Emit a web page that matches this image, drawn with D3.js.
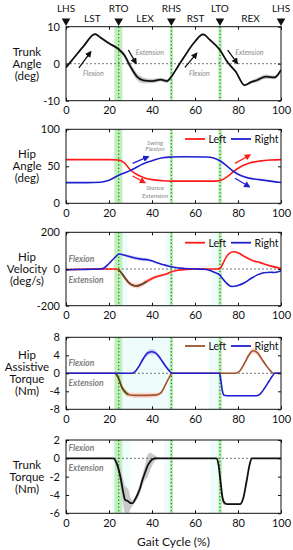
<!DOCTYPE html>
<html>
<head>
<meta charset="utf-8">
<script src="https://cdn.jsdelivr.net/npm/d3@7"></script>
<style>
body { margin: 0; background: #fff; }
text { font-family: Lato, "Open Sans", sans-serif; }
</style>
</head>
<body>
<script>
// ---- data ----
var gaitTicks = [0, 20, 40, 60, 80, 100];
var eventNames = ["LHS", "RTO", "RHS", "LTO", "LHS"];
var eventPct = [0, 24.5, 49, 71.6, 100];
var phaseNames = ["LST", "LEX", "RST", "REX"];
var greenBands = [[22.5, 26.2], [48.3, 49.8], [70.9, 72.5]];

// trunk angle (deg)
var taX = [0, 4, 8, 13.5, 16, 20, 24.5, 27, 30, 33, 36, 40, 44, 47, 49, 52, 55, 60, 63.7, 67, 71.6, 75, 79, 83, 86, 89, 93, 97, 100];
var taY = [-1, 1.8, 4.6, 8.0, 7.1, 5.5, 3.9, 2.4, -0.8, -3.5, -4.5, -4.7, -4.3, -4.7, -3.5, -0.8, 1.9, 6.0, 7.9, 6.4, 3.7, 0.5, -2.2, -5.8, -5.0, -4.4, -3.5, -3.7, -1.7];
var taSd = [0.3, 0.3, 0.3, 0.3, 0.3, 0.3, 0.4, 0.7, 0.9, 0.9, 0.8, 0.6, 0.5, 0.5, 0.4, 0.3, 0.3, 0.3, 0.3, 0.3, 0.3, 0.3, 0.3, 0.3, 0.4, 0.6, 0.6, 0.5, 0.4];

// hip angle (deg)
var haLX = [0, 10, 20, 24.5, 27, 30, 33, 36, 40, 45, 50, 60, 70, 72, 75, 78, 81, 85, 90, 95, 100];
var haLY = [59, 59, 59, 58.5, 55, 45, 39, 35, 32, 30.5, 30, 30, 30, 31, 36, 43, 49, 54, 57, 58.5, 59];
var haRX = [0, 10, 16, 20, 24.5, 28, 30, 33, 36, 40, 45, 49, 55, 65, 69, 71.6, 75, 78, 81, 85, 90, 95, 100];
var haRY = [28, 28, 28.5, 31, 38, 42, 44.5, 49, 53.5, 57.5, 61.5, 62.5, 63, 62.5, 61, 57.5, 50, 43, 38, 34, 32, 30, 28];

// hip velocity (deg/s)
var hvLX = [0, 5, 10, 15, 20, 23, 24.5, 26, 27.5, 29, 31, 33, 35, 37.5, 40, 42, 45, 47, 49, 52, 56, 60, 65, 70, 71.6, 73, 74.5, 76, 78, 80, 83, 87, 90, 95, 100];
var hvLY = [-3, -2, -1, 0, 0, 0, -5, -25, -50, -72, -88, -92, -85, -68, -52, -42, -33, -26, -15, -7, -2, 0, 0, 0, 2, 30, 65, 85, 94, 88, 68, 45, 36, 17, 3];
var hvLSd = [2, 2, 2, 2, 2, 2, 3, 8, 12, 14, 14, 14, 14, 13, 11, 9, 7, 5, 3, 2, 2, 2, 2, 2, 2, 3, 3, 3, 3, 3, 3, 2, 2, 2, 2];
var hvRX = [0, 5, 10, 15, 17, 20, 22.5, 24.8, 27, 29, 32, 35, 38, 40, 42, 45, 48, 51, 55, 60, 64, 67, 69, 71.6, 73, 74.7, 77, 80, 83, 86, 89, 92, 95, 97, 100];
var hvRY = [-5, -3, -2, 0, 2, 30, 60, 82, 76, 69, 60, 54, 50, 45, 35, 24, 15, 8, 3, 0, -1, -8, -18, -33, -55, -78, -95, -90, -75, -52, -32, -20, -18, -19, -11];
var hvRSd = [2, 2, 2, 2, 2, 3, 4, 5, 6, 8, 9, 9, 8, 6, 4, 3, 2, 2, 2, 2, 2, 2, 3, 3, 3, 3, 3, 3, 3, 3, 2, 2, 2, 2, 2];

// hip assistive torque (Nm)
var htLX = [0, 20, 23, 24.5, 25.9, 27.4, 29, 32, 38, 42, 44, 46, 48, 49.5, 52, 60, 70, 79, 81, 83, 85, 87, 89, 91, 93, 95, 96.5, 100];
var htLY = [0, 0, 0, -1.2, -3.0, -4.1, -4.7, -4.9, -4.9, -4.8, -4.4, -2.8, -0.9, 0, 0, 0, 0, 0, 0.6, 2.2, 4.0, 5.0, 4.6, 3.2, 1.8, 0.6, 0, 0];
var htLSd = [0, 0, 0.05, 0.4, 0.6, 0.6, 0.5, 0.6, 0.6, 0.5, 0.4, 0.3, 0.2, 0.1, 0, 0, 0, 0, 0.1, 0.3, 0.5, 0.6, 0.6, 0.5, 0.3, 0.15, 0, 0];
var htRX = [0, 30.5, 32, 34, 36, 38, 40, 42, 44, 46, 48, 49.2, 52, 71.4, 72, 72.7, 73.5, 75, 88.7, 90.5, 92.5, 94.5, 96, 97.2, 100];
var htRY = [0, 0, 0.3, 1.6, 3.3, 4.5, 4.8, 4.4, 3.2, 1.8, 0.6, 0, 0, 0, -1.5, -3.8, -4.9, -5, -5, -4.5, -3.2, -1.7, -0.6, 0, 0];
var htRSd = [0, 0, 0.1, 0.3, 0.5, 0.6, 0.6, 0.5, 0.4, 0.3, 0.2, 0.1, 0, 0, 0.2, 0.4, 0.2, 0.1, 0.05, 0.05, 0.05, 0.05, 0.05, 0, 0];

// trunk torque (Nm)
var ttX = [0, 22, 23.5, 25.1, 26.7, 27.4, 29, 30, 31, 32.1, 33, 34.4, 35.5, 36.7, 38, 39, 41.4, 44, 70.1, 71, 72, 72.8, 73.5, 75, 80.9, 82.5, 84, 85.3, 86.4, 100];
var ttY = [0, 0, -0.5, -1.8, -3.8, -4.5, -4.7, -4.9, -4.9, -4.5, -4.1, -3.3, -2.4, -1.6, -0.8, -0.4, 0, 0, 0, -0.8, -2.8, -4.3, -4.8, -5, -5, -4.3, -2.5, -0.8, 0, 0];
var ttSd = [0, 0.05, 0.6, 1.0, 1.4, 1.5, 1.3, 0.6, 0.3, 0.3, 0.4, 0.5, 0.6, 0.8, 1.2, 1.0, 0.3, 0, 0, 0.2, 0.5, 0.5, 0.3, 0.1, 0.1, 0.2, 0.2, 0.1, 0, 0];

// ---- layout ----
var W = 293, H = 550;
var ml = 66, pw = 215;
var RED = "#ff1a1a", BLUE = "#1f1fd0", BROWN = "#a0522d";

var svg = d3.select("body").append("svg").attr("width", W).attr("height", H);
var x = d3.scaleLinear().domain([0, 100]).range([ml, ml + pw]);

var defs = svg.append("defs");
[["k", "#111"], ["r", RED], ["b", BLUE]].forEach(function (m) {
  defs.append("marker").attr("id", "arr-" + m[0])
    .attr("viewBox", "0 0 10 10").attr("refX", 8).attr("refY", 5)
    .attr("markerWidth", 5).attr("markerHeight", 5).attr("orient", "auto")
    .append("path").attr("d", "M0,0 L10,5 L0,10 z").attr("fill", m[1]);
});

function zip(xs, ys, sd) {
  return xs.map(function (v, i) { return [v, ys[i], sd ? sd[i] : 0]; });
}

function panel(p, idx) {
  var y = d3.scaleLinear().domain(p.domain).range([p.top + p.h, p.top]);
  var g = svg.append("g");
  defs.append("clipPath").attr("id", "clip" + idx).append("rect")
    .attr("x", ml).attr("y", p.top).attr("width", pw).attr("height", p.h);
  var inner = g.append("g").attr("clip-path", "url(#clip" + idx + ")");

  (p.cyan || []).forEach(function (b) {
    inner.append("rect").attr("x", x(b[0])).attr("width", x(b[1]) - x(b[0]))
      .attr("y", p.top).attr("height", p.h).attr("fill", "#effcfc");
  });
  greenBands.forEach(function (b) {
    inner.append("rect").attr("x", x(b[0])).attr("width", x(b[1]) - x(b[0]))
      .attr("y", p.top).attr("height", p.h).attr("fill", "#bff0ba");
  });

  // axes with inward ticks
  var fmt = function (d) { return String(d); };
  g.append("g").attr("transform", "translate(" + ml + ",0)")
    .call(d3.axisLeft(y).tickValues(p.ticks).tickSizeInner(-3).tickSizeOuter(0).tickPadding(6).tickFormat(fmt))
    .call(function (a) { a.select(".domain").remove(); a.selectAll("text").attr("font-size", 11).attr("fill", "#111"); });
  g.append("g").attr("transform", "translate(" + (ml + pw) + ",0)")
    .call(d3.axisRight(y).tickValues(p.ticks).tickSizeInner(-3).tickSizeOuter(0).tickFormat(""))
    .call(function (a) { a.select(".domain").remove(); });
  g.append("g").attr("transform", "translate(0," + (p.top + p.h) + ")")
    .call(d3.axisBottom(x).tickValues(gaitTicks).tickSizeInner(-3).tickSizeOuter(0).tickPadding(5.5).tickFormat(fmt))
    .call(function (a) { a.select(".domain").remove(); a.selectAll("text").attr("font-size", 11).attr("fill", "#111"); });
  g.append("g").attr("transform", "translate(0," + p.top + ")")
    .call(d3.axisTop(x).tickValues(gaitTicks).tickSizeInner(-3).tickSizeOuter(0).tickFormat(""))
    .call(function (a) { a.select(".domain").remove(); });
  g.selectAll(".tick line").attr("stroke", "#111");

  // y label
  var lab = g.append("text").attr("text-anchor", "middle").attr("font-size", 11.5).attr("fill", "#111");
  var n = p.label.length;
  p.label.forEach(function (s, i) {
    lab.append("tspan").attr("x", 27)
      .attr("y", p.top + p.h / 2 + (i - (n - 1) / 2) * 12 + 4).text(s);
  });

  return { g: g, inner: inner, y: y, p: p };
}

function zeroLine(P) {
  P.inner.append("line").attr("x1", ml).attr("x2", ml + pw)
    .attr("y1", P.y(0)).attr("y2", P.y(0))
    .attr("stroke", "#555").attr("stroke-width", 0.8).attr("stroke-dasharray", "2,2");
}

function eventLines(P) {
  eventPct.slice(1, 4).forEach(function (e) {
    P.inner.append("line").attr("x1", x(e)).attr("x2", x(e))
      .attr("y1", P.p.top).attr("y2", P.p.top + P.p.h)
      .attr("stroke", "#1e8a1e").attr("stroke-width", 1.3).attr("stroke-dasharray", "1.3,2.2");
  });
}

function band(P, pts, fill) {
  var area = d3.area().curve(d3.curveMonotoneX)
    .x(function (d) { return x(d[0]); })
    .y0(function (d) { return P.y(d[1] - d[2]); })
    .y1(function (d) { return P.y(d[1] + d[2]); });
  P.inner.append("path").datum(pts).attr("d", area).attr("fill", fill);
}

function line(P, pts, color, w) {
  var ln = d3.line().curve(d3.curveMonotoneX)
    .x(function (d) { return x(d[0]); })
    .y(function (d) { return P.y(d[1]); });
  P.inner.append("path").datum(pts).attr("d", ln).attr("fill", "none")
    .attr("stroke", color).attr("stroke-width", w || 1.6);
}

function frame(P) {
  P.g.append("rect").attr("x", ml).attr("y", P.p.top).attr("width", pw).attr("height", P.p.h)
    .attr("fill", "none").attr("stroke", "#111").attr("stroke-width", 1);
}

function arrow(P, x1, y1, x2, y2, id, color) {
  P.g.append("line").attr("x1", x(x1)).attr("y1", P.y(y1)).attr("x2", x(x2)).attr("y2", P.y(y2))
    .attr("stroke", color).attr("stroke-width", 1.3).attr("marker-end", "url(#arr-" + id + ")");
}

function note(P, px, vy, s, size, anchor) {
  P.g.append("text").attr("x", x(px)).attr("y", P.y(vy)).attr("text-anchor", anchor || "middle")
    .attr("dominant-baseline", "central")
    .attr("font-size", size).attr("font-style", "italic").attr("fill", "#8a8a8a").text(s);
}

function sideNotes(P, yF, yE) {
  P.g.append("text").attr("x", ml + 2.5).attr("y", yF).attr("font-size", 8.5).attr("font-style", "italic")
    .attr("font-weight", "bold").attr("fill", "#808080").attr("dominant-baseline", "central").text("Flexion");
  P.g.append("text").attr("x", ml + 2.5).attr("y", yE).attr("font-size", 8.5).attr("font-style", "italic")
    .attr("font-weight", "bold").attr("fill", "#808080").attr("dominant-baseline", "central").text("Extension");
}

function legend(P, yy, leftColor) {
  var items = [["Left", leftColor, 185], ["Right", BLUE, 231]];
  items.forEach(function (it) {
    P.g.append("line").attr("x1", it[2]).attr("x2", it[2] + 20).attr("y1", yy).attr("y2", yy)
      .attr("stroke", it[1]).attr("stroke-width", 1.8);
    P.g.append("text").attr("x", it[2] + 23.5).attr("y", yy).attr("dominant-baseline", "central")
      .attr("font-size", 10.5).attr("fill", "#111").text(it[0]);
  });
}

// ---- panel 1: trunk angle ----
var P1 = panel({ top: 26.7, h: 74, domain: [-10, 10], ticks: [-10, 0, 10], label: ["Trunk", "Angle", "(deg)"] }, 1);
band(P1, zip(taX, taY, taSd), "#c9c9c9");
zeroLine(P1); eventLines(P1);
line(P1, zip(taX, taY), "#111", 1.8);
frame(P1);
arrow(P1, 6.0, -1.1, 11.5, 3.2, "k", "#111");
arrow(P1, 29, 3.7, 32.6, 0.1, "k", "#111");
arrow(P1, 55.3, -1.0, 60.8, 2.8, "k", "#111");
arrow(P1, 75.2, 3.7, 79.7, 0.1, "k", "#111");
note(P1, 12.7, -2.4, "Flexion", 7);
note(P1, 39, 3.1, "Extension", 7);
note(P1, 62, -2.4, "Flexion", 7);
note(P1, 85.3, 3.1, "Extension", 7);

// gait events above panel 1
eventPct.forEach(function (e, i) {
  svg.append("text").attr("x", x(e)).attr("y", 11.5).attr("text-anchor", "middle")
    .attr("font-size", 10).attr("fill", "#111").text(eventNames[i]);
  svg.append("path").attr("d", d3.symbol(d3.symbolTriangle, 32)())
    .attr("transform", "translate(" + x(e) + ",21) rotate(180)").attr("fill", "#111");
});
phaseNames.forEach(function (s, i) {
  svg.append("text").attr("x", x((eventPct[i] + eventPct[i + 1]) / 2)).attr("y", 21.5)
    .attr("text-anchor", "middle").attr("font-size", 10).attr("fill", "#111").text(s);
});

// ---- panel 2: hip angle ----
var P2 = panel({ top: 129.3, h: 74, domain: [0, 100], ticks: [0, 50, 100], label: ["Hip", "Angle", "(deg)"] }, 2);
eventLines(P2);
line(P2, zip(haLX, haLY), RED);
line(P2, zip(haRX, haRY), BLUE);
frame(P2);
legend(P2, 139, RED);
arrow(P2, 31, 54, 38.3, 63, "b", BLUE);
arrow(P2, 31, 36.9, 36.7, 27.8, "r", RED);
arrow(P2, 78.6, 54, 85.6, 65.3, "r", RED);
arrow(P2, 78.6, 33.8, 85.3, 22.4, "b", BLUE);
note(P2, 41.4, 82.4, "Swing", 6.5);
note(P2, 41.4, 73.4, "Flexion", 6.5);
note(P2, 41.4, 21, "Stance", 6.5);
note(P2, 41.4, 9.9, "Extension", 6.5);

// ---- panel 3: hip velocity ----
var P3 = panel({ top: 232.3, h: 73.4, domain: [-200, 200], ticks: [-200, 0, 200], label: ["Hip", "Velocity", "(deg/s)"],
  cyan: [[26, 28.5], [46, 48.3], [67.5, 70.9]] }, 3);
band(P3, zip(hvLX, hvLY, hvLSd), "#fbd3d3");
band(P3, zip(hvRX, hvRY, hvRSd), "#d0d0f6");
zeroLine(P3); eventLines(P3);
line(P3, zip(hvLX, hvLY), RED);
line(P3, zip(hvLX, hvLY).filter(function (d) { return d[0] >= 24.5 && d[0] <= 37.5; }), "#5a4a22", 1.6);
line(P3, zip(hvRX, hvRY), BLUE);
frame(P3);
legend(P3, 242.7, RED);
sideNotes(P3, 259.3, 280);

// ---- panel 4: hip assistive torque ----
var P4 = panel({ top: 337.3, h: 72, domain: [-8, 8], ticks: [-8, -4, 0, 4, 8], label: ["Hip", "Assistive", "Torque", "(Nm)"],
  cyan: [[26.2, 48.3], [66.5, 70.9]] }, 4);
band(P4, zip(htLX, htLY, htLSd), "#f8d8d0");
band(P4, zip(htLX, htLY, htLSd).filter(function (d) { return d[0] >= 23 && d[0] <= 29; }), "#d8cb98");
band(P4, zip(htRX, htRY, htRSd), "#cfcff7");
zeroLine(P4); eventLines(P4);
line(P4, zip(htLX, htLY), BROWN);
line(P4, zip(htLX, htLY).filter(function (d) { return d[0] >= 23 && d[0] <= 29; }), "#5b4a1e", 1.6);
line(P4, zip(htRX, htRY), BLUE);
frame(P4);
legend(P4, 346, BROWN);
sideNotes(P4, 363.3, 383.3);

// ---- panel 5: trunk torque ----
var P5 = panel({ top: 440, h: 73.3, domain: [-6, 2], ticks: [-6, -4, -2, 0, 2], label: ["Trunk", "Torque", "(Nm)"],
  cyan: [[21.5, 22.5], [26.2, 30], [45.5, 48.3], [67, 70.9]] }, 5);
band(P5, zip(ttX, ttY, ttSd), "#c9c9c9");
zeroLine(P5); eventLines(P5);
line(P5, zip(ttX, ttY), "#111", 1.8);
frame(P5);
sideNotes(P5, 447.7, 468.3);

svg.append("text").attr("x", x(50)).attr("y", 546).attr("text-anchor", "middle")
  .attr("font-size", 12).attr("fill", "#111").text("Gait Cycle (%)");
</script>
</body>
</html>
